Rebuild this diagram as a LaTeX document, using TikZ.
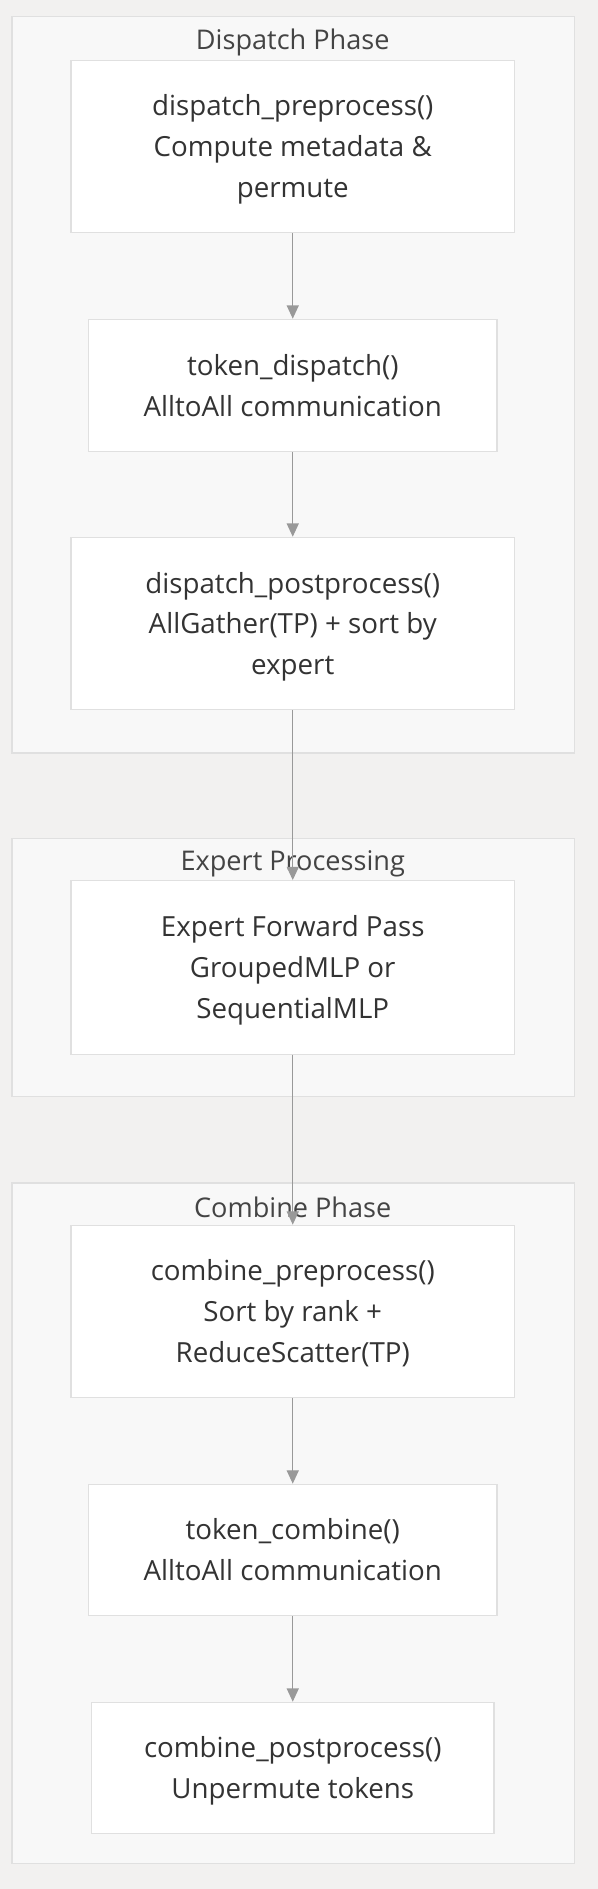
\documentclass[tikz,border=0pt]{standalone}
\usepackage{fontspec}
\setmainfont{Open Sans}
\usetikzlibrary{arrows.meta}
\definecolor{pagebg}{HTML}{F2F1F0}
\definecolor{phasebg}{HTML}{F8F8F8}
\definecolor{boxline}{HTML}{E0E0E0}
\definecolor{flowline}{HTML}{999999}
\definecolor{bodytext}{HTML}{333333}
\definecolor{titletext}{HTML}{444444}
\begin{document}
\begin{tikzpicture}[x=1pt,y=-1pt,
  phase/.style={draw=boxline,fill=phasebg,line width=1pt},
  phasetitle/.style={text=titletext,font=\fontsize{22.5}{26}\selectfont,inner sep=0pt},
  stepbox/.style={draw=boxline,fill=white,line width=1pt,align=center,text=bodytext,
    font=\fontsize{23}{34}\selectfont,inner sep=0pt,text depth=-2pt,minimum width=#1},
  stepbox/.default=368pt,
  flow/.style={draw=flowline,line width=1pt,-{Triangle[length=11pt,width=10pt]}}]
\fill[pagebg] (0,0) rectangle (496,1568);
\useasboundingbox (0,0) rectangle (496,1568);
% phases
\draw[phase] (10,14) rectangle (477,625);
\draw[phase] (10,696) rectangle (477,910);
\draw[phase] (10,982) rectangle (477,1547);
\node[phasetitle] (dispatchtitle) at (243,35) {Dispatch Phase};
\node[phasetitle] (experttitle) at (243,717) {Expert Processing};
\node[phasetitle] (combinetitle) at (243,1002) {Combine Phase};
% steps
\node[stepbox,minimum height=143pt] (dpre) at (243,121.5)
  {dispatch\_preprocess()\\Compute metadata \&\\permute};
\node[stepbox=339pt,minimum height=110pt] (tdisp) at (243,320)
  {token\_dispatch()\\AlltoAll communication};
\node[stepbox,minimum height=143pt] (dpost) at (243,517.5)
  {dispatch\_postprocess()\\AllGather(TP) + sort by\\expert};
\node[stepbox,minimum height=144pt] (fwd) at (243,803)
  {Expert Forward Pass\\GroupedMLP or\\SequentialMLP};
\node[stepbox,minimum height=143pt] (cpre) at (243,1088.5)
  {combine\_preprocess()\\Sort by rank +\\ReduceScatter(TP)};
\node[stepbox=339pt,minimum height=109pt] (tcomb) at (243,1286.5)
  {token\_combine()\\AlltoAll communication};
\node[stepbox=334pt,minimum height=109pt] (cpost) at (243,1467.5)
  {combine\_postprocess()\\Unpermute tokens};
% flow
\draw[flow] (dpre) -- (tdisp);
\draw[flow] (tdisp) -- (dpost);
\draw[flow] (dpost) -- (fwd);
\draw[flow] (fwd) -- (cpre);
\draw[flow] (cpre) -- (tcomb);
\draw[flow] (tcomb) -- (cpost);
\end{tikzpicture}
\end{document}
